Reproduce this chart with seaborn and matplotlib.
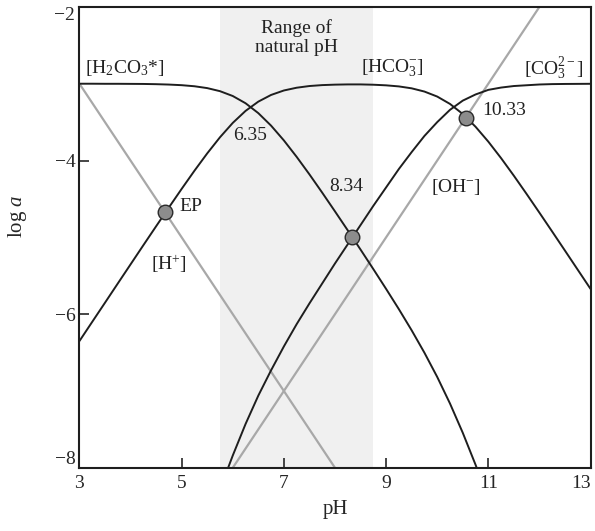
import matplotlib
matplotlib.use("Agg")
import matplotlib.pyplot as plt
import seaborn as sns
import pandas as pd

# ---- data ----
ph = [3.00, 3.25, 3.50, 3.75, 4.00, 4.25, 4.50, 4.75, 5.00, 5.25, 5.50, 5.75,
      6.00, 6.25, 6.50, 6.75, 7.00, 7.25, 7.50, 7.75, 8.00, 8.25, 8.50, 8.75,
      9.00, 9.25, 9.50, 9.75, 10.00, 10.25, 10.50, 10.75, 11.00, 11.25, 11.50,
      11.75, 12.00, 12.25, 12.50, 12.75, 13.00]
log_h2co3 = [-3.000, -3.000, -3.001, -3.001, -3.002, -3.003, -3.006, -3.011,
             -3.019, -3.033, -3.057, -3.097, -3.160, -3.254, -3.383, -3.546,
             -3.738, -3.952, -4.180, -4.418, -4.662, -4.909, -5.159, -5.413,
             -5.671, -5.935, -6.210, -6.502, -6.817, -7.163, -7.544, -7.960,
             -8.404, -8.869, -9.348, -9.836, -10.33, -10.83, -11.33, -11.83, -12.33]
log_hco3 = [-6.350, -6.100, -5.851, -5.601, -5.352, -5.103, -4.856, -4.611,
            -4.369, -4.133, -3.907, -3.697, -3.510, -3.354, -3.233, -3.146,
            -3.088, -3.052, -3.030, -3.018, -3.012, -3.009, -3.009, -3.013,
            -3.021, -3.035, -3.060, -3.102, -3.167, -3.263, -3.394, -3.560,
            -3.754, -3.969, -4.198, -4.436, -4.679, -4.925, -5.173, -5.422, -5.671]
log_co3 = [-13.68, -13.18, -12.68, -12.18, -11.68, -11.18, -10.69, -10.19,
           -9.70, -9.21, -8.74, -8.28, -7.84, -7.43, -7.06, -6.73, -6.42, -6.13,
           -5.86, -5.60, -5.34, -5.09, -4.84, -4.59, -4.35, -4.11, -3.89, -3.68,
           -3.50, -3.34, -3.22, -3.14, -3.08, -3.05, -3.03, -3.02, -3.01, -3.005,
           -3.003, -3.002, -3.001]
h_ph = [3.0, 8.0]
log_h = [-3.0, -8.0]
oh_ph = [6.0, 12.0]
log_oh = [-8.0, -2.0]
pt_ph = [4.67, 8.34, 10.56]
pt_log = [-4.67, -5.00, -3.44]
natural_range = [5.75, 8.75]
xticks = [3, 5, 7, 9, 11, 13]
yticks = [-8, -6, -4, -2]

# ---- style ----
sns.set_style("white")
plt.rcParams["font.family"] = ["Liberation Serif", "DejaVu Serif"]
plt.rcParams["mathtext.fontset"] = "custom"
plt.rcParams["mathtext.rm"] = "Liberation Serif"
plt.rcParams["mathtext.it"] = "Liberation Serif:italic"

fig = plt.figure(figsize=(5.95, 5.31), dpi=100)
ax = fig.add_axes([0.1335, 0.119, 0.859, 0.868])

ax.axvspan(natural_range[0], natural_range[1], color="#f0f0f0", zorder=0, lw=0)

black = "#1e1e1e"
grey = "#a8a8a8"
df = pd.DataFrame({"pH": ph, "h2co3": log_h2co3, "hco3": log_hco3, "co3": log_co3})
for col in ["h2co3", "hco3", "co3"]:
    sns.lineplot(data=df, x="pH", y=col, ax=ax, color=black, lw=1.4, zorder=3)
sns.lineplot(x=h_ph, y=log_h, ax=ax, color=grey, lw=1.6, zorder=2)
sns.lineplot(x=oh_ph, y=log_oh, ax=ax, color=grey, lw=1.6, zorder=2)
sns.scatterplot(x=pt_ph, y=pt_log, ax=ax, s=110, color="#8c8c8c",
                edgecolor="#2a2a2a", linewidth=1.0, zorder=5)

ax.set_xlim(3, 13)
ax.set_ylim(-8, -2)
ax.set_xticks(xticks)
ax.set_yticks(yticks)
ax.tick_params(direction="in", length=7, width=1.2, labelsize=14,
               top=False, right=False, left=True, bottom=True)
ax.tick_params(axis="x", pad=5)
ax.tick_params(axis="y", pad=3)
for s in ax.spines.values():
    s.set_linewidth(1.5)
    s.set_color("#1e1e1e")
ax.set_xlabel("pH", fontsize=15, labelpad=6)
ax.set_ylabel("log $a$", fontsize=15)
ax.yaxis.set_label_coords(-0.098, 0.545)

# corner tick labels pulled inside, as in the reference
fig.canvas.draw()
xl = ax.get_xticklabels()
xl[-1].set_horizontalalignment("right")
yl = ax.get_yticklabels()
yl[0].set_verticalalignment("bottom")
yl[-1].set_verticalalignment("top")

fs = 14
ax.text(7.25, -2.4, "Range of\nnatural pH", ha="center", va="center",
        fontsize=fs, linespacing=1.15, color="#222")
ax.text(3.1, -2.8, "[H$_2$CO$_3$*]", ha="left", va="center", fontsize=fs, color="#222")
ax.text(8.5, -2.8, "[HCO$_3^{-}$]", ha="left", va="center", fontsize=fs, color="#222")
ax.text(11.7, -2.8, "[CO$_3^{2-}$]", ha="left", va="center", fontsize=fs, color="#222")
ax.text(6.33, -3.67, "6.35", ha="center", va="center", fontsize=fs, color="#222")
ax.text(8.23, -4.34, "8.34", ha="center", va="center", fontsize=fs, color="#222")
ax.text(4.96, -4.6, "EP", ha="left", va="center", fontsize=fs, color="#222")
ax.text(4.75, -5.35, "[H$^{+}$]", ha="center", va="center", fontsize=fs, color="#222")
ax.text(10.37, -4.34, "[OH$^{-}$]", ha="center", va="center", fontsize=fs, color="#222")
ax.text(10.89, -3.35, "10.33", ha="left", va="center", fontsize=fs, color="#222")

fig.savefig("out.png", dpi=100)
